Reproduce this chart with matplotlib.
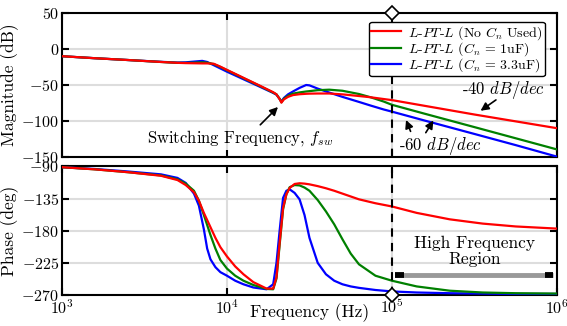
import numpy as np
import matplotlib
matplotlib.use("Agg")
import matplotlib.pyplot as plt

plt.rcParams['font.family'] = 'cmr10'
plt.rcParams['mathtext.fontset'] = 'cm'
plt.rcParams['axes.unicode_minus'] = False
plt.rcParams['axes.formatter.use_mathtext'] = True

# log10 of frequency (Hz)
mag_logf = [3.0, 3.2, 3.4, 3.6, 3.7, 3.75, 3.8, 3.85, 3.88, 3.92, 3.96, 4.0, 4.1, 4.2, 4.28,
            4.30, 4.32, 4.33, 4.345, 4.37, 4.40, 4.44, 4.48, 4.50, 4.55, 4.62, 4.7, 4.8,
            4.87, 4.95, 5.0, 5.2, 5.5, 5.75, 6.0]
mag_red = [-10, -12.8, -15.3, -18, -19.2, -19.6, -19.8, -20, -20, -20.5, -24.5, -29, -40, -51, -60,
           -63, -70, -74.5, -70, -66.5, -64, -62.8, -62.2, -62, -61.8, -61.8, -63, -65.3,
           -67, -69.5, -71, -79, -91, -100.5, -110]
mag_green = [-10, -12.8, -15.3, -18, -19.2, -19.3, -19, -18.5, -19, -21, -25, -29.5, -40.5, -51.5, -60.5,
             -63, -69.5, -74, -69, -65, -62, -60.3, -59, -58.5, -57.2, -56.5, -58, -62.5,
             -67, -73, -77.5, -90, -108.5, -124, -139.5]
mag_blue = [-10, -12.8, -15.3, -17.8, -18.8, -18.5, -17.5, -16.5, -18, -22.5, -27, -31.5, -42, -52.5, -61,
            -63.5, -69.5, -73, -68, -63, -59, -54, -50, -50.5, -55, -60.5, -66.5, -73.5,
            -78.5, -84, -87, -99.5, -118, -133.5, -149.5]

ph_logf = [3.0, 3.2, 3.4, 3.6, 3.7, 3.75, 3.8, 3.83, 3.86, 3.88, 3.9, 3.93, 3.96, 4.0, 4.05, 4.1,
           4.16, 4.24, 4.28, 4.3, 4.32, 4.34, 4.36, 4.38, 4.41, 4.44, 4.47, 4.5, 4.55, 4.6,
           4.65, 4.7, 4.75, 4.8, 4.9, 5.0, 5.15, 5.35, 5.55, 5.75, 6.0]
ph_red = [-91, -94, -98, -103, -109, -116, -126, -138, -155, -165, -175, -190, -203, -216, -230, -241,
          -252, -261, -261, -245, -195, -148, -129, -120, -114.5, -113.5, -114, -115, -117.5, -120.5,
          -124, -128, -132, -136, -141.5, -146, -155, -164, -170, -174, -177]
ph_green = [-91, -94, -98, -102.5, -108, -114, -124, -138, -158, -172, -186, -205, -221, -233, -243, -250,
            -256, -261.5, -262, -247, -198, -150, -129, -119, -116, -116.5, -119.5, -124, -137, -153,
            -171, -192, -212, -227, -243, -250, -258, -264, -266.5, -267.5, -268]
ph_blue = [-91, -93.5, -97, -101, -106, -113, -128, -145, -178, -205, -220, -231, -238, -243, -250, -255,
           -259.5, -262, -255, -225, -178, -134, -124, -122, -127, -136, -158, -190, -225, -241,
           -250, -255, -258, -260, -263, -265, -266.5, -267.5, -268, -268.5, -268.5]

labels = [r'$L$-$PT$-$L$ (No $C_n$ Used)', r'$L$-$PT$-$L$ ($C_n$ = 1uF)', r'$L$-$PT$-$L$ ($C_n$ = 3.3uF)']
colors = ['red', 'green', 'blue']

f_mag = 10 ** np.array(mag_logf)
f_ph = 10 ** np.array(ph_logf)
mags = [mag_red, mag_green, mag_blue]
phs = [ph_red, ph_green, ph_blue]

fig = plt.figure(figsize=(5.67, 3.26), dpi=100)
ax1 = fig.add_axes([0.1093, 0.5184, 0.873, 0.4417])
ax2 = fig.add_axes([0.1093, 0.0951, 0.873, 0.3942])

lines = []
for i in [2, 1, 0]:
    l, = ax1.semilogx(f_mag, mags[i], color=colors[i], lw=1.6, zorder=3)
    ax2.semilogx(f_ph, phs[i], color=colors[i], lw=1.6, zorder=3)
    lines.append(l)
lines = lines[::-1]

for ax in [ax1, ax2]:
    ax.set_xlim(1e3, 1e6)
    ax.grid(True, which='major', color='#dddddd', lw=1.5, zorder=0)
    ax.minorticks_off()
    ax.tick_params(direction='in', length=5, width=1.5, top=True, right=True, labelsize=11.5, pad=2)
    for s in ax.spines.values():
        s.set_linewidth(1.5)
    ax.axvline(1e5, color='black', lw=1.5, ls=(0, (4, 3)), zorder=4)

ax1.set_ylim(-150, 50)
ax1.set_yticks([50, 0, -50, -100, -150])
ax1.set_xticks([1e3, 1e4, 1e5, 1e6])
ax1.tick_params(labelbottom=False)
ax1.set_ylabel('Magnitude (dB)', fontsize=12.5, labelpad=2)
ax1.plot([1e5], [50], marker='D', ms=7, mfc='white', mec='black', mew=1.2, clip_on=False, zorder=6)

ax2.set_ylim(-270, -90)
ax2.set_yticks([-90, -135, -180, -225, -270])
ax2.set_xticks([1e3, 1e4, 1e5, 1e6])
ax2.set_ylabel('Phase (deg)', fontsize=12.5, labelpad=2)
ax2.set_xlabel('Frequency (Hz)', fontsize=12.5)
ax2.xaxis.set_label_coords(0.5, -0.065)
ax2.plot([1e5], [-270], marker='D', ms=7, mfc='white', mec='black', mew=1.2, clip_on=False, zorder=6)

leg = ax1.legend(lines, labels, loc='upper right', bbox_to_anchor=(0.975, 0.94), fontsize=10,
                 handlelength=2.2, labelspacing=-0.1, borderpad=0.15, handletextpad=0.5,
                 borderaxespad=0, fancybox=True, framealpha=1, edgecolor='black')
leg.get_frame().set_linewidth(1.0)
leg.set_zorder(10)

# annotations
arr = dict(arrowstyle='-|>', color='black', lw=1.2, mutation_scale=12)
ax1.annotate('', xy=(10 ** 4.321, -77.8), xytext=(10 ** 4.19, -108), arrowprops=arr)
ax1.text(10 ** 4.079, -124, r'Switching Frequency, $f_{sw}$', fontsize=12, ha='center', va='center')

ax1.annotate('', xy=(10 ** 5.523, -88), xytext=(10 ** 5.644, -68.5), arrowprops=arr)
ax1.text(10 ** 5.673, -57, r'-40 $dB/dec$', fontsize=12, ha='center', va='center')

ax1.annotate('', xy=(10 ** 5.079, -95), xytext=(10 ** 5.119, -118), arrowprops=arr)
ax1.annotate('', xy=(10 ** 5.26, -96), xytext=(10 ** 5.196, -119.5), arrowprops=arr)
ax1.text(10 ** 5.294, -134.7, r'-60 $dB/dec$', fontsize=12, ha='center', va='center')

ax2.text(10 ** 5.503, -208.6, 'High Frequency\nRegion', fontsize=12.5, ha='center', va='center',
         linespacing=1.1)
ax2.plot([10 ** 5.018, 10 ** 5.978], [-242, -242], color='#999999', lw=3.5, solid_capstyle='butt', zorder=5)
ax2.plot([10 ** 5.018, 10 ** 5.07], [-242, -242], color='black', lw=4.2, solid_capstyle='butt', zorder=5)
ax2.plot([10 ** 5.925, 10 ** 5.978], [-242, -242], color='black', lw=4.2, solid_capstyle='butt', zorder=5)

plt.savefig('out.png', dpi=100)
